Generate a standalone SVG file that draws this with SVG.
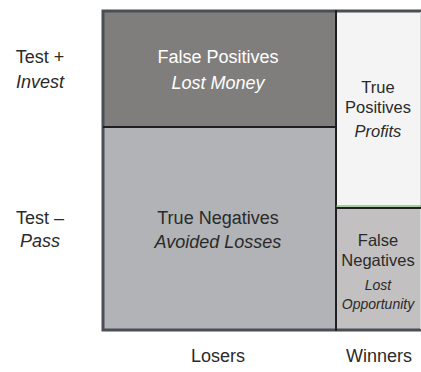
<svg xmlns="http://www.w3.org/2000/svg" width="421" height="372" viewBox="0 0 421 372">
<style>
text{font-family:"Liberation Sans","Open Sans",sans-serif;text-anchor:middle;font-size:18px;fill:#2a2a2a}
.i{font-style:italic}
.w{fill:#ffffff}
.r{font-size:16.5px}
.s{font-size:14px}
.line{stroke:#1e1f22;stroke-width:2;fill:none}
.frame{stroke:#4a4e55;stroke-width:3;fill:none}
</style>
<rect width="421" height="372" fill="#ffffff"/>
<g id="axis-labels">
<text x="40" y="63">Test +</text>
<text x="40" y="88" class="i">Invest</text>
<text x="40" y="224">Test –</text>
<text x="40" y="247" class="i">Pass</text>
<text x="218" y="362">Losers</text>
<text x="379" y="362">Winners</text>
</g>
<g id="false-positives">
<rect x="103" y="11" width="233" height="116" fill="#7f7e7d"/>
<text x="218" y="63" class="w">False Positives</text>
<text x="218" y="89" class="w i">Lost Money</text>
</g>
<g id="true-negatives">
<rect x="103" y="127" width="233" height="203" fill="#b1b3b6"/>
<text x="218" y="224">True Negatives</text>
<text x="218" y="248" class="i">Avoided Losses</text>
</g>
<g id="true-positives">
<rect x="336" y="11" width="85" height="196" fill="#f4f4f4"/>
<text x="378" y="93" class="r">True</text>
<text x="378" y="113" class="r">Positives</text>
<text x="378" y="137" class="r i">Profits</text>
</g>
<g id="false-negatives">
<rect x="336" y="207" width="85" height="123" fill="#c2c0c0"/>
<text x="378" y="246" class="r">False</text>
<text x="378" y="266" class="r">Negatives</text>
<text x="378" y="290" class="i s">Lost</text>
<text x="378" y="309" class="i s">Opportunity</text>
</g>
<g id="connectors">
<polyline class="frame" points="421,11 103,11 103,330 421,330"/>
<line x1="420.5" y1="12" x2="420.5" y2="329" stroke="#d8d8d8" stroke-width="1"/>
<line class="line" x1="336" y1="10" x2="336" y2="331"/>
<line class="line" x1="103" y1="127" x2="336" y2="127"/>
<line x1="336" y1="206" x2="421" y2="206" stroke="#5aa84a" stroke-width="1"/>
<line class="line" x1="336" y1="208" x2="421" y2="208"/>
</g>
</svg>
